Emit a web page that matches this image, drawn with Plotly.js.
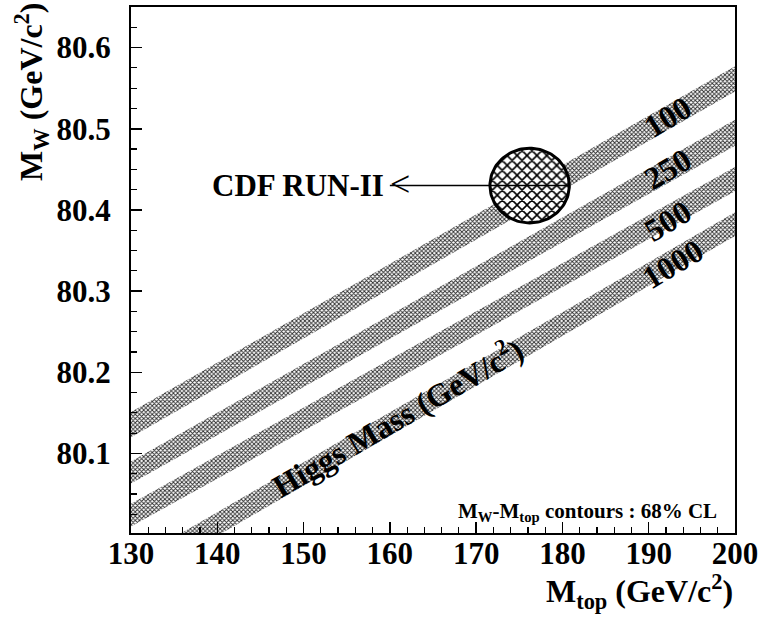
<!DOCTYPE html>
<html>
<head>
<meta charset="utf-8">
<script src="https://cdn.plot.ly/plotly-3.0.1.min.js"></script>
<style>html,body{margin:0;padding:0;background:#fff;}#chart{width:763px;height:623px;}</style>
</head>
<body>
<div id="chart"></div>
<script>
// ---- data ----
var mtopEnds = [130, 200];                         // M_top (GeV/c^2) at band ends
var higgsMasses = ['100', '250', '500', '1000'];  // Higgs mass labels (GeV/c^2)
var bandUpper = [[80.151, 80.577], [80.090, 80.511], [80.038, 80.453], [79.966, 80.397]];
var bandLower = [[80.120, 80.546], [80.063, 80.479], [80.010, 80.423], [79.937, 80.368]];
var labelMtop = [192.2, 192.2, 192.2, 192.8];      // where each Higgs-mass label sits
var labelMw = [80.514, 80.450, 80.386, 80.333];
var cdfCenter = [176.2, 80.430];                   // CDF Run-II expected (M_top, M_W)
var cdfRadius = [4.6, 0.046];                      // 68% CL half-widths
var xTicks = [130, 140, 150, 160, 170, 180, 190, 200];
var yTicks = [80.1, 80.2, 80.3, 80.4, 80.5, 80.6];

var serif = 'Liberation Serif, Times New Roman, serif';
var traces = [];
var bandPattern = {shape: 'x', size: 3, solidity: 0.5, fgcolor: '#2a2a2a', bgcolor: '#ffffff', fillmode: 'replace'};
for (var i = 0; i < bandUpper.length; i++) {
  traces.push({
    type: 'scatter', mode: 'lines',
    x: [mtopEnds[0], mtopEnds[1], mtopEnds[1], mtopEnds[0]],
    y: [bandUpper[i][0], bandUpper[i][1], bandLower[i][1], bandLower[i][0]],
    fill: 'toself', fillcolor: '#9a9a9a', fillpattern: bandPattern,
    line: {width: 0, color: 'rgba(0,0,0,0)'},
    hoverinfo: 'skip', showlegend: false
  });
}
// CDF ellipse
var ex = [], ey = [];
for (var k = 0; k <= 120; k++) {
  var t = 2 * Math.PI * k / 120;
  ex.push(cdfCenter[0] + cdfRadius[0] * Math.cos(t));
  ey.push(cdfCenter[1] + cdfRadius[1] * Math.sin(t));
}
traces.push({
  type: 'scatter', mode: 'lines', x: ex, y: ey,
  fill: 'toself', fillcolor: '#888',
  fillpattern: {shape: 'x', size: 7, solidity: 0.4, fgcolor: '#000000', bgcolor: '#ffffff', fillmode: 'replace'},
  line: {width: 3, color: '#000'}, hoverinfo: 'skip', showlegend: false
});

var annotations = [];
for (var j = 0; j < higgsMasses.length; j++) {
  annotations.push({
    x: labelMtop[j], y: labelMw[j], xref: 'x', yref: 'y', showarrow: false,
    text: '<b>' + higgsMasses[j] + '</b>', textangle: -31,
    font: {family: serif, size: 32, color: '#000'}
  });
}
annotations.push({
  x: 160.8, y: 80.146, xref: 'x', yref: 'y', showarrow: false,
  text: '<b>Higgs Mass (GeV/c<sup>2</sup>)</b>', textangle: -30,
  font: {family: serif, size: 32, color: '#000'}
});
annotations.push({
  x: 159.6, y: cdfCenter[1], xref: 'x', yref: 'y', showarrow: false,
  xanchor: 'right', yanchor: 'middle',
  text: '<b>CDF RUN-II</b>',
  font: {family: serif, size: 31, color: '#000'}
});
annotations.push({
  x: 159.8, y: cdfCenter[1] + 0.002, xref: 'x', yref: 'y', showarrow: false,
  xanchor: 'left', yanchor: 'middle',
  text: '&lt;',
  font: {family: serif, size: 36, color: '#000'}
});
annotations.push({
  x: 198.2, y: 80.028, xref: 'x', yref: 'y', showarrow: false,
  xanchor: 'right', yanchor: 'middle',
  text: '<b>M<sub>W</sub>-M<sub>top</sub> contours : 68% CL</b>',
  font: {family: serif, size: 21, color: '#000'}
});
annotations.push({
  x: 1, y: -0.112, xref: 'paper', yref: 'paper', showarrow: false,
  xanchor: 'right', yanchor: 'middle',
  text: '<b>M<sub>top</sub> (GeV/c<sup>2</sup>)</b>',
  font: {family: serif, size: 32, color: '#000'}
});
annotations.push({
  x: -0.166, y: 0.838, xref: 'paper', yref: 'paper', showarrow: false,
  xanchor: 'center', yanchor: 'middle', textangle: -90,
  text: '<b>M<sub>W</sub> (GeV/c<sup>2</sup>)</b>',
  font: {family: serif, size: 32, color: '#000'}
});

var layout = {
  width: 763, height: 623,
  margin: {l: 131, r: 28, t: 7, b: 90},
  paper_bgcolor: '#fff', plot_bgcolor: '#fff',
  showlegend: false,
  xaxis: {
    range: [130, 200], tickvals: xTicks, ticktext: xTicks.map(String),
    ticks: 'inside', ticklen: 11, tickwidth: 1.5, tickcolor: '#000',
    minor: {dtick: 2, ticks: 'inside', ticklen: 6, tickwidth: 1.2, tickcolor: '#000', showgrid: false},
    showline: true, linewidth: 2, linecolor: '#000', mirror: true,
    showgrid: false, zeroline: false, ticklabelstandoff: -8,
    tickfont: {family: serif, size: 31, color: '#000', weight: 'bold'}
  },
  yaxis: {
    range: [80.002, 80.650], tickvals: yTicks, ticktext: yTicks.map(function (v) { return v.toFixed(1); }),
    ticks: 'inside', ticklen: 11, tickwidth: 1.5, tickcolor: '#000',
    minor: {dtick: 0.025, tick0: 80, ticks: 'inside', ticklen: 6, tickwidth: 1.2, tickcolor: '#000', showgrid: false},
    showline: true, linewidth: 2, linecolor: '#000', mirror: true,
    showgrid: false, zeroline: false, ticklabelstandoff: 12,
    tickfont: {family: serif, size: 31, color: '#000', weight: 'bold'}
  },
  shapes: [{
    type: 'line', xref: 'x', yref: 'y', layer: 'above',
    x0: 160.0, x1: cdfCenter[0] + cdfRadius[0], y0: cdfCenter[1], y1: cdfCenter[1],
    line: {color: '#000', width: 1.5}
  }],
  annotations: annotations
};

Plotly.newPlot('chart', traces, layout, {displayModeBar: false, staticPlot: true});
</script>
</body>
</html>
